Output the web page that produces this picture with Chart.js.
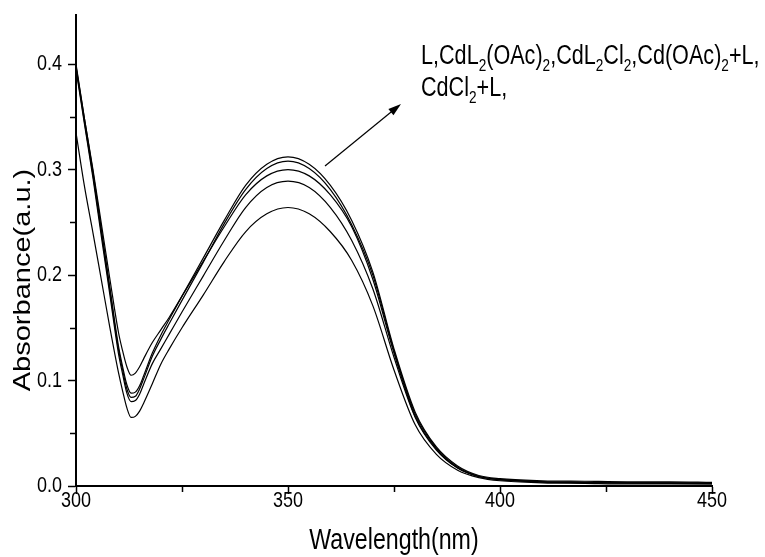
<!DOCTYPE html>
<html lang="en">
<head>
    <meta charset="UTF-8">
    <title>Absorbance spectra</title>
    <script src="https://cdn.jsdelivr.net/npm/chart.js"></script>
    <style>
        body { margin: 0; padding: 0; background: #fff; }
        #chart-container { position: relative; width: 765px; height: 557px; }
    </style>
</head>
<body>
    <div id="chart-container">
        <canvas id="spectraChart"></canvas>
    </div>
    <script>
        // Wavelengths (nm) and absorbance of the five solutions
        const wavelengths = [300, 302, 304, 306, 308, 310, 311, 312, 313, 314, 315, 316, 318, 320, 322, 325, 330, 335, 340, 345, 350, 355, 360, 365, 370, 375, 380, 385, 390, 395, 400, 410, 420, 430, 440, 450];
        const absA = [0.398, 0.348, 0.300, 0.248, 0.196, 0.146, 0.128, 0.113, 0.105, 0.107, 0.113, 0.121, 0.136, 0.148, 0.160, 0.180, 0.213, 0.246, 0.276, 0.294, 0.300, 0.294, 0.276, 0.246, 0.196, 0.126, 0.066, 0.035, 0.017, 0.009, 0.006, 0.004, 0.0035, 0.003, 0.003, 0.003];
        const absB = [0.400, 0.348, 0.298, 0.243, 0.188, 0.133, 0.113, 0.096, 0.088, 0.089, 0.095, 0.105, 0.126, 0.143, 0.158, 0.180, 0.216, 0.252, 0.285, 0.305, 0.312, 0.305, 0.285, 0.252, 0.203, 0.130, 0.070, 0.037, 0.019, 0.010, 0.007, 0.005, 0.0045, 0.004, 0.004, 0.0035];
        const absC = [0.397, 0.345, 0.295, 0.240, 0.185, 0.130, 0.110, 0.092, 0.084, 0.085, 0.092, 0.102, 0.123, 0.139, 0.154, 0.176, 0.212, 0.249, 0.281, 0.301, 0.308, 0.301, 0.281, 0.248, 0.200, 0.128, 0.068, 0.036, 0.018, 0.009, 0.006, 0.004, 0.0035, 0.003, 0.003, 0.0025];
        const absD = [0.395, 0.343, 0.292, 0.236, 0.181, 0.126, 0.106, 0.088, 0.080, 0.081, 0.087, 0.097, 0.116, 0.130, 0.144, 0.165, 0.199, 0.233, 0.264, 0.283, 0.289, 0.283, 0.264, 0.233, 0.187, 0.122, 0.065, 0.034, 0.017, 0.009, 0.006, 0.004, 0.003, 0.003, 0.0025, 0.002];
        const absE = [0.335, 0.284, 0.240, 0.195, 0.150, 0.108, 0.090, 0.074, 0.065, 0.066, 0.071, 0.079, 0.097, 0.1155, 0.130, 0.150, 0.181, 0.213, 0.241, 0.258, 0.264, 0.258, 0.241, 0.214, 0.171, 0.110, 0.058, 0.030, 0.015, 0.008, 0.005, 0.003, 0.0025, 0.002, 0.002, 0.002];

        const xMinorTicks = [325, 375, 425];
        const yMinorTicks = [0.05, 0.15, 0.25, 0.35];

        const FONT = "'Liberation Sans', Arial, sans-serif";
        const SQUEEZE = 0.8;   // narrow lettering

        function toPoints(ys) {
            return wavelengths.map((w, i) => ({ x: w, y: ys[i] }));
        }

        const series = [absA, absB, absC, absD, absE].map(ys => ({
            data: toPoints(ys),
            borderColor: '#000',
            borderWidth: 1.2,
            pointRadius: 0,
            fill: false,
            cubicInterpolationMode: 'monotone'
        }));

        // text drawn condensed; rotated text gets squeezed across its height
        function narrowText(ctx, text, x, y, size, align, baseline, rotated) {
            ctx.save();
            ctx.translate(x, y);
            if (rotated) {
                ctx.rotate(-Math.PI / 2);
                ctx.scale(1, SQUEEZE);
            } else {
                ctx.scale(SQUEEZE, 1);
            }
            ctx.font = size + 'px ' + FONT;
            ctx.textAlign = align;
            ctx.textBaseline = baseline;
            ctx.fillText(text, 0, 0);
            ctx.restore();
        }

        const extras = {
            id: 'extras',
            afterDraw(chart) {
                const ctx = chart.ctx;
                const xs = chart.scales.x, ys = chart.scales.y;
                ctx.save();
                ctx.strokeStyle = '#000';
                ctx.fillStyle = '#000';
                ctx.lineWidth = 1.5;

                // minor ticks
                ctx.beginPath();
                xMinorTicks.forEach(v => {
                    const px = Math.round(xs.getPixelForValue(v)) + 0.5;
                    ctx.moveTo(px, xs.top);
                    ctx.lineTo(px, xs.top + 6);
                });
                yMinorTicks.forEach(v => {
                    const py = Math.round(ys.getPixelForValue(v)) + 0.5;
                    ctx.moveTo(ys.right, py);
                    ctx.lineTo(ys.right - 6, py);
                });
                ctx.stroke();

                // tick labels
                xs.ticks.forEach(t => {
                    narrowText(ctx, String(t.value), xs.getPixelForValue(t.value), 501, 22.5, 'center', 'middle', false);
                });
                ys.ticks.forEach(t => {
                    narrowText(ctx, t.value.toFixed(1), 62, ys.getPixelForValue(t.value), 22.5, 'right', 'middle', false);
                });

                // axis titles
                narrowText(ctx, 'Wavelength(nm)', (xs.left + xs.right) / 2, 541, 29, 'center', 'middle', false);
                narrowText(ctx, 'Absorbance(a.u.)', 24, 280, 29, 'center', 'middle', true);

                // label: runs of [text, isSubscript]
                const lines = [
                    [['L,CdL', 0], ['2', 1], ['(OAc)', 0], ['2', 1], [',CdL', 0], ['2', 1], ['Cl', 0], ['2', 1], [',Cd(OAc)', 0], ['2', 1], ['+L,', 0]],
                    [['CdCl', 0], ['2', 1], ['+L,', 0]]
                ];
                const baselines = [64, 96];
                lines.forEach((runs, li) => {
                    ctx.save();
                    ctx.translate(421, baselines[li]);
                    ctx.scale(SQUEEZE, 1);
                    ctx.textBaseline = 'alphabetic';
                    let x = 0;
                    runs.forEach(([t, sub]) => {
                        ctx.font = (sub ? '17px ' : '27px ') + FONT;
                        ctx.fillText(t, x, sub ? 7 : 0);
                        x += ctx.measureText(t).width;
                    });
                    ctx.restore();
                });

                // arrow pointing at the label
                const x0 = 325, y0 = 166, x1 = 401, y1 = 104;
                const ang = Math.atan2(y1 - y0, x1 - x0);
                ctx.lineWidth = 1.2;
                ctx.beginPath();
                ctx.moveTo(x0, y0);
                ctx.lineTo(x1 - 10 * Math.cos(ang), y1 - 10 * Math.sin(ang));
                ctx.stroke();
                ctx.beginPath();
                ctx.moveTo(x1, y1);
                ctx.lineTo(x1 - 13 * Math.cos(ang) + 4 * Math.sin(ang), y1 - 13 * Math.sin(ang) - 4 * Math.cos(ang));
                ctx.lineTo(x1 - 13 * Math.cos(ang) - 4 * Math.sin(ang), y1 - 13 * Math.sin(ang) + 4 * Math.cos(ang));
                ctx.closePath();
                ctx.fill();
                ctx.restore();
            }
        };

        const chart = new Chart(document.getElementById('spectraChart'), {
            type: 'line',
            data: { datasets: series },
            options: {
                responsive: true,
                maintainAspectRatio: false,
                animation: false,
                layout: { padding: { top: 15, right: 53, left: 0, bottom: 0 } },
                plugins: { legend: { display: false }, tooltip: { enabled: false } },
                scales: {
                    x: {
                        type: 'linear',
                        min: 300,
                        max: 450,
                        afterFit: s => { s.height = 71; },
                        ticks: { stepSize: 50, display: false },
                        grid: { drawOnChartArea: false, drawTicks: true, tickLength: 8, tickColor: '#000', tickWidth: 1.5 },
                        border: { display: true, color: '#000', width: 2 }
                    },
                    y: {
                        min: 0,
                        max: 0.4465,
                        afterFit: s => { s.width = 76; },
                        ticks: { stepSize: 0.1, includeBounds: false, display: false },
                        grid: { drawOnChartArea: false, drawTicks: true, tickLength: 8, tickColor: '#000', tickWidth: 1.5 },
                        border: { display: true, color: '#000', width: 2 }
                    }
                }
            },
            plugins: [extras]
        });
    </script>
</body>
</html>
